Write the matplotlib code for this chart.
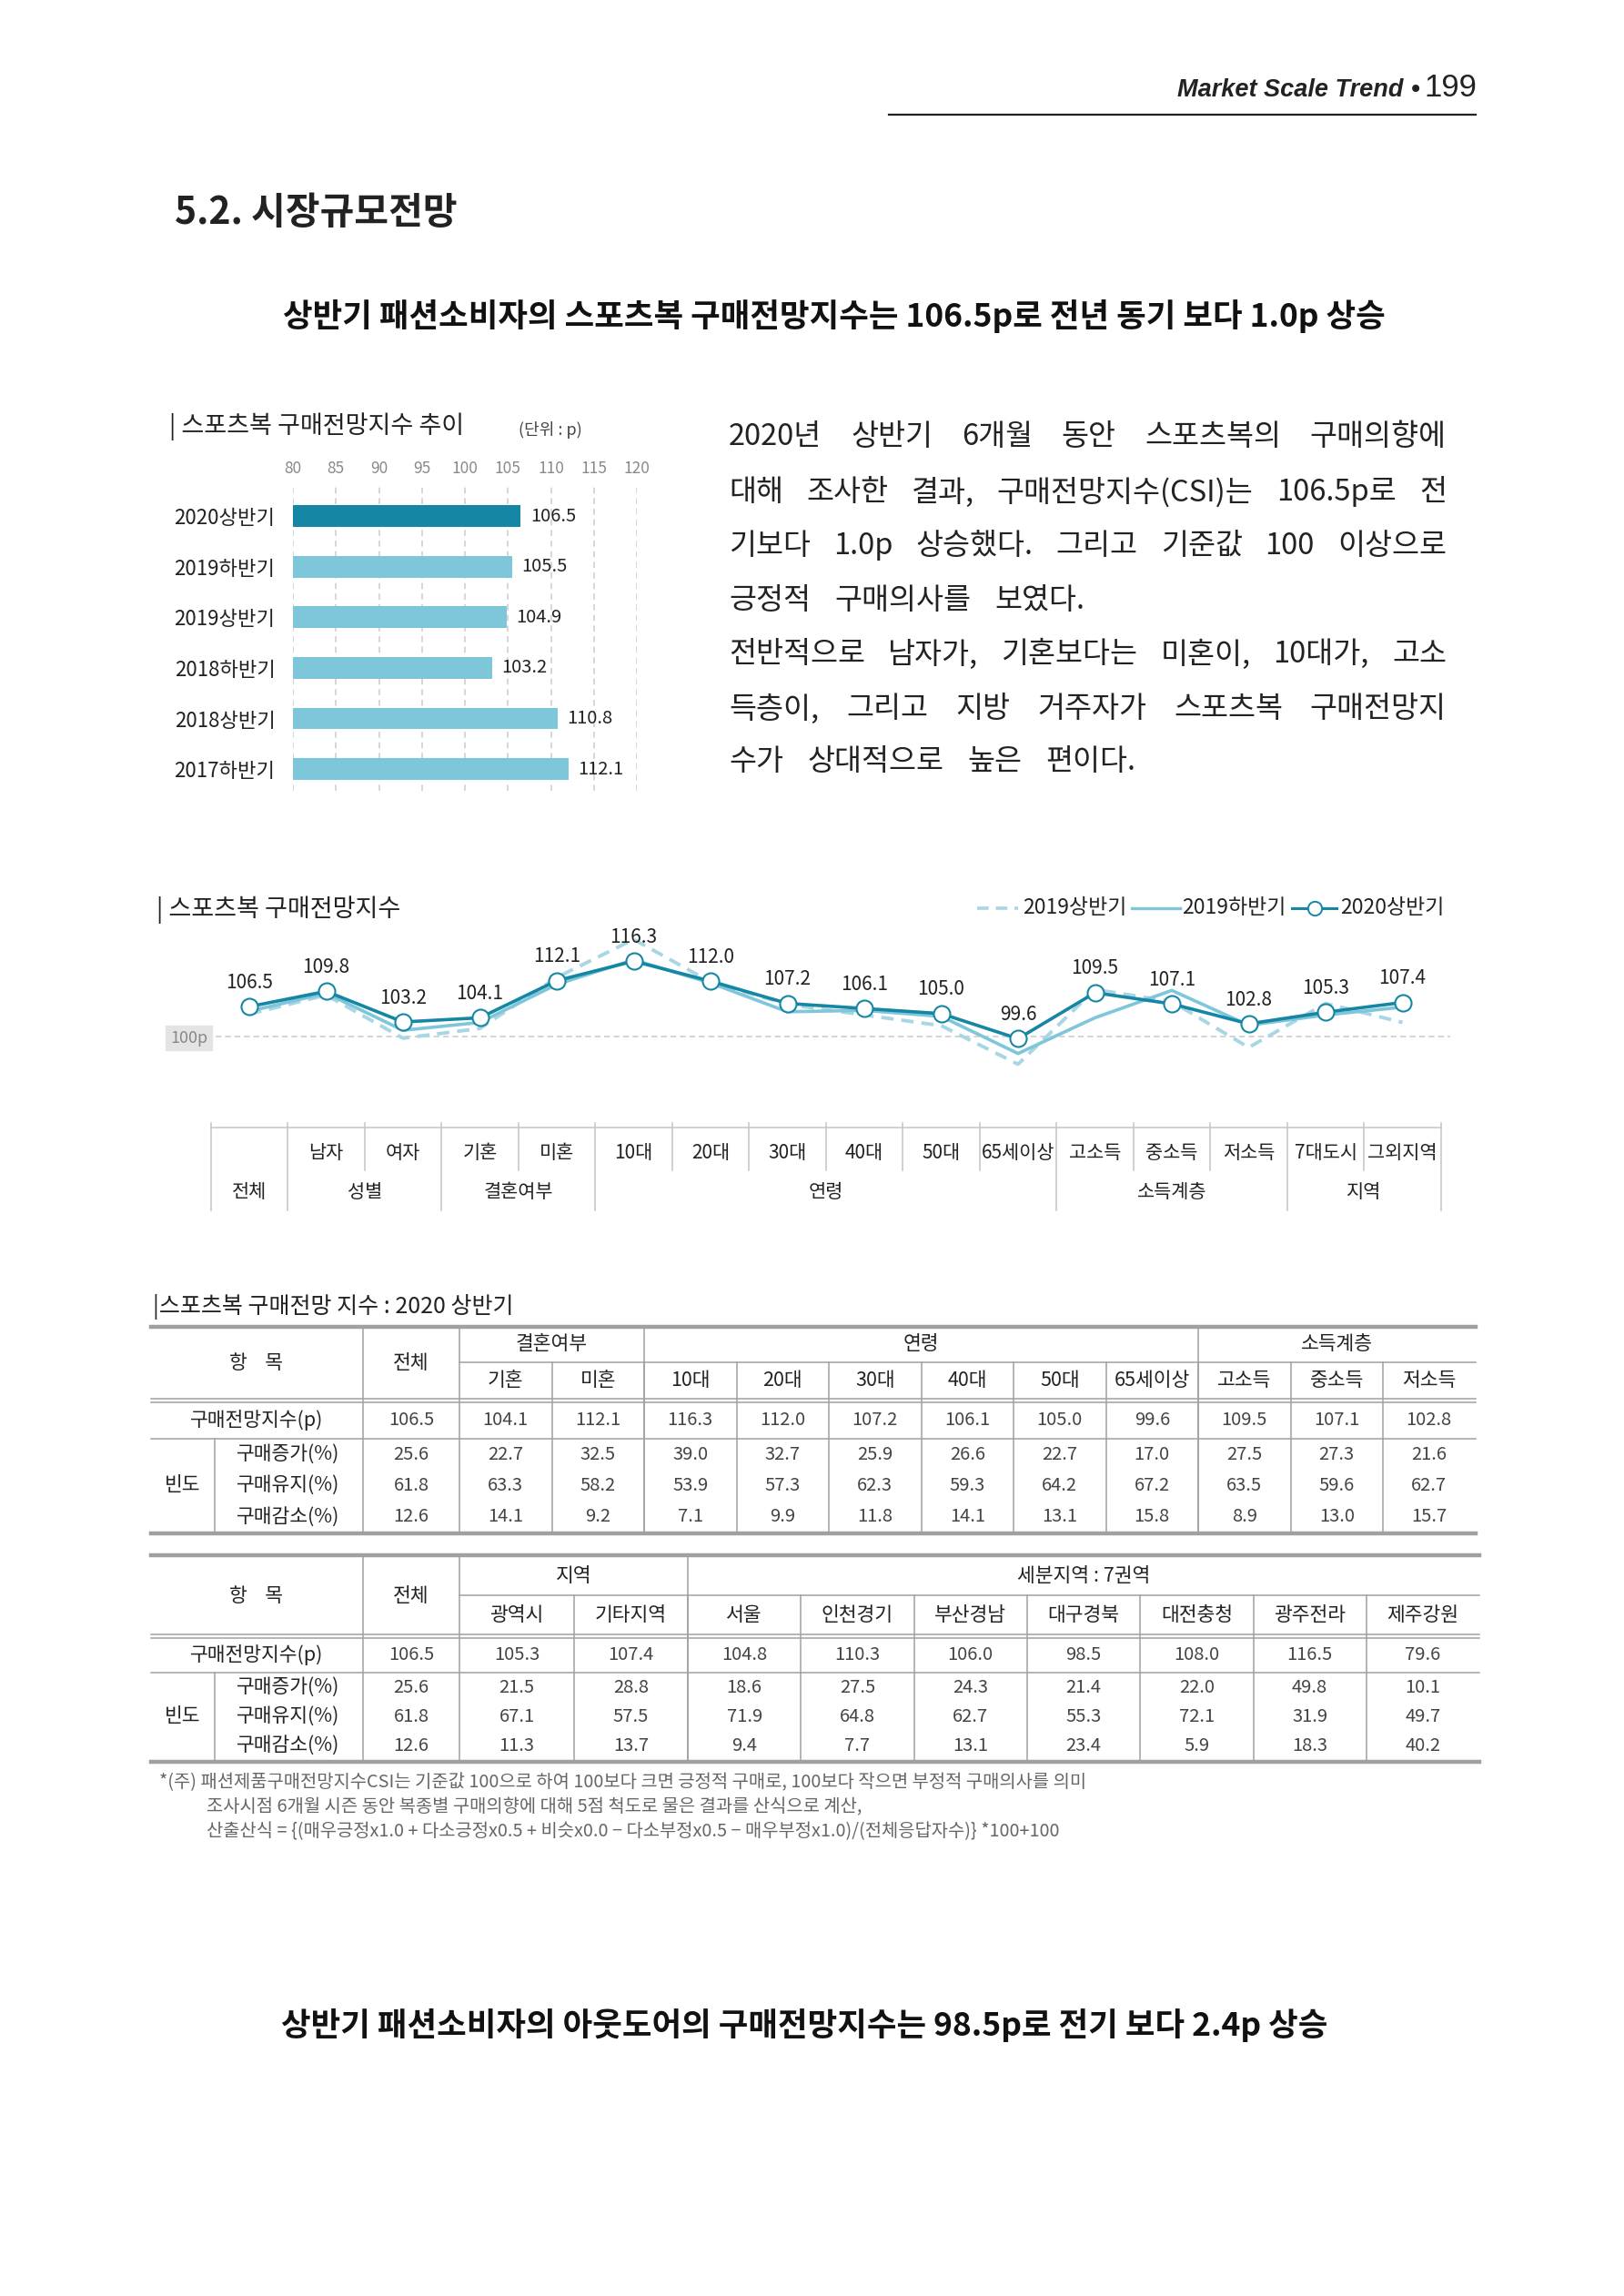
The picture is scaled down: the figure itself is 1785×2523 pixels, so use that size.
import matplotlib
matplotlib.use('Agg')
import matplotlib.pyplot as plt
from matplotlib.patches import Rectangle
from matplotlib.textpath import TextToPath
from matplotlib.font_manager import FontProperties

plt.rcParams['font.family'] = ['Noto Sans CJK KR', 'DejaVu Sans']

# ---- data ----
bar_labels = ['2020상반기', '2019하반기', '2019상반기', '2018하반기', '2018상반기', '2017하반기']
bar_values = [106.5, 105.5, 104.9, 103.2, 110.8, 112.1]
bar_ticks = [80, 85, 90, 95, 100, 105, 110, 115, 120]

line_cats = ['', '남자', '여자', '기혼', '미혼', '10대', '20대', '30대', '40대', '50대',
             '65세이상', '고소득', '중소득', '저소득', '7대도시', '그외지역']
line_groups = [('전체', 0, 0), ('성별', 1, 2), ('결혼여부', 3, 4), ('연령', 5, 10),
               ('소득계층', 11, 13), ('지역', 14, 15)]
s2020_1 = [106.5, 109.8, 103.2, 104.1, 112.1, 116.3, 112.0, 107.2, 106.1, 105.0,
           99.6, 109.5, 107.1, 102.8, 105.3, 107.4]
s2019_2 = [105.5, 109.4, 101.4, 103.1, 111.3, 116.6, 111.6, 105.4, 105.7, 104.4,
           96.4, 104.1, 110.0, 102.5, 104.7, 106.4]
s2019_1 = [104.9, 109.0, 99.7, 101.8, 112.8, 121.0, 111.8, 107.0, 104.7, 102.4,
           94.1, 110.2, 107.6, 97.7, 107.2, 103.1]

t1_cols = ['기혼', '미혼', '10대', '20대', '30대', '40대', '50대', '65세이상', '고소득', '중소득', '저소득']
t1_groups = [('결혼여부', 0, 2), ('연령', 2, 8), ('소득계층', 8, 11)]
t1_total = [106.5, 25.6, 61.8, 12.6]
t1_index = [104.1, 112.1, 116.3, 112.0, 107.2, 106.1, 105.0, 99.6, 109.5, 107.1, 102.8]
t1_inc = [22.7, 32.5, 39.0, 32.7, 25.9, 26.6, 22.7, 17.0, 27.5, 27.3, 21.6]
t1_keep = [63.3, 58.2, 53.9, 57.3, 62.3, 59.3, 64.2, 67.2, 63.5, 59.6, 62.7]
t1_dec = [14.1, 9.2, 7.1, 9.9, 11.8, 14.1, 13.1, 15.8, 8.9, 13.0, 15.7]

t2_cols = ['광역시', '기타지역', '서울', '인천경기', '부산경남', '대구경북', '대전충청', '광주전라', '제주강원']
t2_groups = [('지역', 0, 2), ('세분지역 : 7권역', 2, 9)]
t2_total = [106.5, 25.6, 61.8, 12.6]
t2_index = [105.3, 107.4, 104.8, 110.3, 106.0, 98.5, 108.0, 116.5, 79.6]
t2_inc = [21.5, 28.8, 18.6, 27.5, 24.3, 21.4, 22.0, 49.8, 10.1]
t2_keep = [67.1, 57.5, 71.9, 64.8, 62.7, 55.3, 72.1, 31.9, 49.7]
t2_dec = [11.3, 13.7, 9.4, 7.7, 13.1, 23.4, 5.9, 18.3, 40.2]

row_names = ['구매증가(%)', '구매유지(%)', '구매감소(%)']

paragraph = [
    ('2020년 상반기 6개월 동안 스포츠복의 구매의향에', True),
    ('대해 조사한 결과, 구매전망지수(CSI)는 106.5p로 전', True),
    ('기보다 1.0p 상승했다. 그리고 기준값 100 이상으로', True),
    ('긍정적 구매의사를 보였다.', False),
    ('전반적으로 남자가, 기혼보다는 미혼이, 10대가, 고소', True),
    ('득층이, 그리고 지방 거주자가 스포츠복 구매전망지', True),
    ('수가 상대적으로 높은 편이다.', False),
]

footnotes = [
    '*(주) 패션제품구매전망지수CSI는 기준값 100으로 하여 100보다 크면 긍정적 구매로, 100보다 작으면 부정적 구매의사를 의미',
    '조사시점 6개월 시즌 동안 복종별 구매의향에 대해 5점 척도로 물은 결과를 산식으로 계산,',
    '산출산식 = {(매우긍정x1.0 + 다소긍정x0.5 + 비슷x0.0 − 다소부정x0.5 − 매우부정x1.0)/(전체응답자수)} *100+100',
]

# ---- colours ----
DARK = '#1586a3'
LIGHT = '#7ec6d9'
PALE = '#a9d6e3'
TXT = '#222222'
TLINE = '#a0a0a0'

W, H = 1785, 2523
fig = plt.figure(figsize=(W / 100, H / 100), dpi=100)
pg = fig.add_axes([0, 0, 1, 1])
pg.set_xlim(0, W)
pg.set_ylim(H, 0)
pg.axis('off')


def px_axes(x0, y0, x1, y1):
    a = fig.add_axes([x0 / W, 1 - y1 / H, (x1 - x0) / W, (y1 - y0) / H])
    a.patch.set_alpha(0)
    return a


# ---- page header ----
pg.text(1542, 99, 'Market Scale Trend', ha='right', va='center', family='Liberation Sans',
        style='italic', weight='bold', fontsize=19.5, color=TXT)
pg.text(1556, 99, '•', ha='center', va='center', family='DejaVu Sans', fontsize=20, color=TXT)
pg.text(1623, 97, '199', ha='right', va='center', family='Liberation Sans', fontsize=25, color=TXT)
pg.plot([977, 1622], [126, 126], color=TXT, lw=1.6)

pg.text(192, 234, '5.2. 시장규모전망', ha='left', va='center', fontsize=29.5, weight='bold', color=TXT)
pg.text(917, 348, '상반기 패션소비자의 스포츠복 구매전망지수는 106.5p로 전년 동기 보다 1.0p 상승',
        ha='center', va='center', fontsize=25.5, weight='bold', color='#111')

# ---- bar chart ----
pg.text(186, 469, '| 스포츠복 구매전망지수 추이', ha='left', va='center', fontsize=19.5, color=TXT)
pg.text(570, 472, '(단위 : p)', ha='left', va='center', fontsize=13, color='#444')

ax = px_axes(322, 531, 700, 869)
ypos = list(range(len(bar_values)))
ax.barh(ypos, [v - 80 for v in bar_values], left=80, height=0.43,
        color=[DARK] + [LIGHT] * (len(bar_values) - 1), zorder=3)
for t in bar_ticks:
    ax.axvline(t, color='#d0d0d0', lw=1.2, ls=(0, (4, 3)), zorder=1)
ax.set_xlim(80, 120)
ax.set_ylim(5.43, -0.65)
ax.xaxis.tick_top()
ax.set_xticks(bar_ticks)
ax.set_xticklabels([str(t) for t in bar_ticks])
ax.set_yticks(ypos)
ax.set_yticklabels(bar_labels)
ax.tick_params(axis='x', length=0, pad=5, labelsize=12.5, labelcolor='#8a8a8a')
ax.tick_params(axis='y', length=0, pad=14, labelsize=16, labelcolor=TXT)
for s in ax.spines.values():
    s.set_visible(False)
for i, v in enumerate(bar_values):
    ax.text(v + 1.1, i, f'{v:.1f}', va='center', ha='left', fontsize=14.5, color=TXT)

# ---- paragraph (justified) ----
fp_par = FontProperties(family='Noto Sans CJK KR', size=23.5)
t2p = TextToPath()


def text_px(s):
    w, h, d = t2p.get_text_width_height_descent(s, fp_par, ismath=False)
    return w * 100 / 72


par_x0, par_x1 = 801, 1590
par_y = [480, 541, 600, 660, 719, 779, 837]
for (line, just), y in zip(paragraph, par_y):
    words = line.split(' ')
    widths = [text_px(w) for w in words]
    if just and len(words) > 1:
        gap = (par_x1 - par_x0 - sum(widths)) / (len(words) - 1)
    else:
        gap = 26
    x = par_x0
    for w, wd in zip(words, widths):
        pg.text(x, y, w, ha='left', va='center', fontproperties=fp_par, color=TXT)
        x += wd + gap

# ---- line chart ----
pg.text(172, 1000, '| 스포츠복 구매전망지수', ha='left', va='center', fontsize=19.5, color=TXT)

X0, DX = 274, 84.5
ax2 = px_axes(176, 1020, 1597, 1200)
ax2.set_xlim((176 - X0) / DX, (1597 - X0) / DX)
ax2.set_ylim(88.1, 123.4)
ax2.axis('off')
xs = list(range(len(s2020_1)))
ax2.plot([(237 - X0) / DX, (1594 - X0) / DX], [100, 100], color='#d5d5d5', lw=1.5,
         ls=(0, (3, 2)), zorder=1)
ax2.plot(xs, s2019_1, color=PALE, lw=2.8, dashes=(3.5, 2.2), zorder=2, clip_on=False)
ax2.plot(xs, s2019_2, color=LIGHT, lw=2.6, zorder=3, clip_on=False)
ax2.plot(xs, s2020_1, color=DARK, lw=2.6, marker='o', ms=13, mfc='white', mec=DARK,
         mew=1.5, zorder=4, clip_on=False)
for i, v in zip(xs, s2020_1):
    ax2.annotate(f'{v:.1f}', (i, v), xytext=(0, 19), textcoords='offset points',
                 ha='center', va='center', fontsize=15, color=TXT)

pg.add_patch(Rectangle((182, 1127), 51, 27, color='#e4e4e4', zorder=1))
pg.text(207.5, 1140.5, '100p', ha='center', va='center', fontsize=13, color='#888')

# legend
ly = 998
pg.plot([1074, 1119], [ly, ly], color=PALE, lw=2.6, dashes=(3.5, 2.2))
pg.text(1124, ly, '2019상반기', ha='left', va='center', fontsize=16.5, color=TXT)
pg.plot([1244, 1297], [ly, ly], color=LIGHT, lw=2.4)
pg.text(1299, ly, '2019하반기', ha='left', va='center', fontsize=16.5, color=TXT)
pg.plot([1420, 1469], [ly, ly], color=DARK, lw=2.2)
pg.plot([1444.5], [ly], marker='o', ms=11, mfc='white', mec=DARK, mew=1.4)
pg.text(1473, ly, '2020상반기', ha='left', va='center', fontsize=16.5, color=TXT)

# category table under the line chart
cx = [X0 + DX * i for i in range(len(line_cats))]
pg.plot([X0 - DX / 2, X0 + DX * (len(line_cats) - 0.5)], [1239, 1239], color='#c8c8c8', lw=1.2)
major = {g[1] for g in line_groups} | {len(line_cats)}
for k in range(len(line_cats) + 1):
    xb = X0 + DX * (k - 0.5)
    y1 = 1330 if k in major else 1286
    pg.plot([xb, xb], [1234, y1], color='#c8c8c8', lw=1.2)
for x, c in zip(cx, line_cats):
    if c:
        pg.text(x, 1267, c, ha='center', va='center', fontsize=15, color=TXT)
for name, a, b in line_groups:
    pg.text(X0 + DX * (a + b) / 2, 1310, name, ha='center', va='center', fontsize=15, color=TXT)


# ---- tables ----
def draw_table(edges, cols, groups, total, index, inc, keep, dec, ys):
    top, gline, dbl, iline, bot, yh1, yh2, yi, yr = ys
    xl, xitem, xtot = 166, 399, 505
    xr = edges[-1]
    pg.plot([xl, xr], [top, top], color=TLINE, lw=3.2)
    pg.plot([xl, xr], [bot, bot], color=TLINE, lw=3.2)
    pg.plot([xl, xr], [dbl - 2, dbl - 2], color=TLINE, lw=1.1)
    pg.plot([xl, xr], [dbl + 2, dbl + 2], color=TLINE, lw=1.1)
    pg.plot([xl, xr], [iline, iline], color=TLINE, lw=1.1)
    pg.plot([xtot, xr], [gline, gline], color=TLINE, lw=1.1)
    for x in (xitem, xtot):
        pg.plot([x, x], [top, bot], color=TLINE, lw=1.1)
    for name, a, b in groups:
        if a > 0:
            pg.plot([edges[a], edges[a]], [top, bot], color=TLINE, lw=1.1)
    for k in range(1, len(edges) - 1):
        pg.plot([edges[k], edges[k]], [gline, bot], color=TLINE, lw=1.1)
    pg.plot([236, 236], [iline, bot], color=TLINE, lw=1.1)
    hc = (top + dbl) / 2
    pg.text(282, hc, '항    목', ha='center', va='center', fontsize=15.5, color=TXT)
    pg.text((xitem + xtot) / 2, hc, '전체', ha='center', va='center', fontsize=15.5, color=TXT)
    for name, a, b in groups:
        pg.text((edges[a] + edges[b]) / 2, yh1, name, ha='center', va='center', fontsize=15.5, color=TXT)
    centers = [(edges[k] + edges[k + 1]) / 2 for k in range(len(cols))]
    for x, c in zip(centers, cols):
        pg.text(x, yh2, c, ha='center', va='center', fontsize=15.5, color=TXT)
    pg.text(282, yi, '구매전망지수(p)', ha='center', va='center', fontsize=15.5, color=TXT)
    pg.text(201, yr[1], '빈도', ha='center', va='center', fontsize=15.5, color=TXT)
    for y, nm in zip(yr, row_names):
        pg.text(317, y, nm, ha='center', va='center', fontsize=15.5, color=TXT)
    tx = (xitem + xtot) / 2
    for y, v in zip([yi] + list(yr), total):
        pg.text(tx, y, f'{v:.1f}', ha='center', va='center', fontsize=14.5, color='#444')
    for vals, y in zip([index, inc, keep, dec], [yi] + list(yr)):
        for x, v in zip(centers, vals):
            pg.text(x, y, f'{v:.1f}', ha='center', va='center', fontsize=14.5, color='#444')


pg.text(168, 1436, '|스포츠복 구매전망 지수 : 2020 상반기', ha='left', va='center', fontsize=18, color=TXT)
edges1 = [505 + 101.5 * k for k in range(len(t1_cols) + 1)]
draw_table(edges1, t1_cols, t1_groups, t1_total, t1_index, t1_inc, t1_keep, t1_dec,
           (1458, 1497, 1539, 1581, 1685, 1477, 1517, 1560, (1598, 1632, 1667)))

edges2 = [505, 631, 756] + [756 + 124.3 * k for k in range(1, 8)]
draw_table(edges2, t2_cols, t2_groups, t2_total, t2_index, t2_inc, t2_keep, t2_dec,
           (1709, 1753, 1798, 1838, 1936, 1732, 1775, 1819, (1854, 1886, 1918)))

# footnotes
pg.text(175, 1959, footnotes[0], ha='left', va='center', fontsize=14.3, color='#666')
pg.text(227, 1986, footnotes[1], ha='left', va='center', fontsize=14.3, color='#666')
pg.text(227, 2013, footnotes[2], ha='left', va='center', fontsize=14.3, color='#666')

pg.text(884, 2226, '상반기 패션소비자의 아웃도어의 구매전망지수는 98.5p로 전기 보다 2.4p 상승',
        ha='center', va='center', fontsize=25.5, weight='bold', color='#111')

fig.savefig('out.png', dpi=100, facecolor='white')
